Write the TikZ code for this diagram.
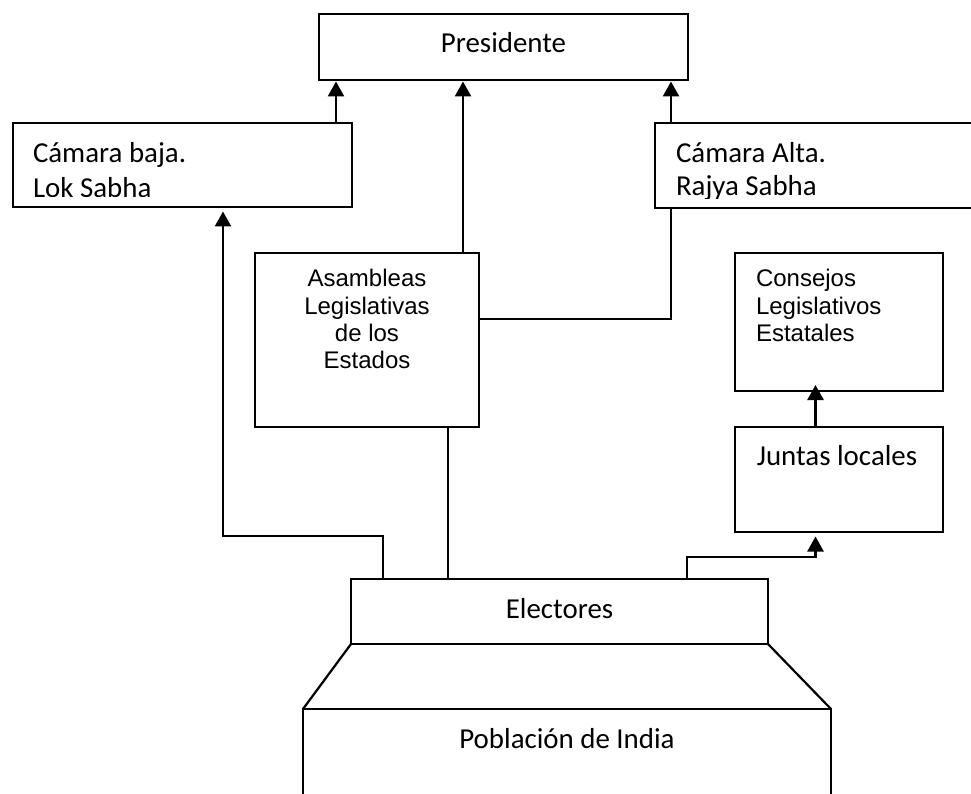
\documentclass[tikz,border=0pt]{standalone}
\usepackage{fontspec}
\setmainfont{Carlito}
\newfontfamily\arialf{Liberation Sans}
\usetikzlibrary{arrows.meta}
\tikzset{
  box/.style={draw, line width=2.2pt, inner sep=0pt, outer sep=0pt, fill=none},
  ln/.style={line width=2.2pt},
  arr/.style={line width=2.4pt, -{Triangle[length=15pt,width=16pt]}},
  cal/.style={font=\fontsize{28.9}{35}\selectfont, inner sep=0pt, outer sep=0pt},
  ari/.style={font=\arialf\fontsize{24}{27}\selectfont, inner sep=0pt, outer sep=0pt},
}
\begin{document}
\begin{tikzpicture}[x=1pt,y=-1pt]
\useasboundingbox (0,0) rectangle (971,794);
\clip (0,0) rectangle (971,794);
% boxes
\node[box, minimum width=369pt, minimum height=66pt] (pres) at (503.5,47) {};
\node[box, minimum width=339pt, minimum height=84pt] (baja) at (182.5,165) {};
\node[box, minimum width=345pt, minimum height=85pt] (alta) at (827.5,165.5) {};
\node[box, minimum width=224pt, minimum height=174pt] (asam) at (367,340) {};
\node[box, minimum width=208pt, minimum height=138pt] (cons) at (839,322) {};
\node[box, minimum width=208pt, minimum height=105pt] (junt) at (839,479.5) {};
\node[box, minimum width=417pt, minimum height=65pt] (elec) at (559.5,611.5) {};
\node[box, minimum width=528pt, minimum height=111pt] (pob) at (567,764.5) {};
% trapezoid sides
\draw[ln] (elec.south west) -- (pob.north west);
\draw[ln] (elec.south east) -- (pob.north east);
% texts
\node[cal, anchor=base] (tpres) at (503.5,53) {Presidente};
\begin{scope}
  \clip (13,123) rectangle (352,196.5);
  \node[cal, anchor=base west] (tbaja1) at (33,163) {Cámara baja.};
  \node[cal, anchor=base west] (tbaja2) at (33,197.5) {Lok Sabha};
\end{scope}
\begin{scope}
  \clip (655,123) rectangle (971,199);
  \node[cal, anchor=base west] (talta1) at (676,163) {Cámara Alta.};
  \node[cal, anchor=base west] (talta2) at (676,196) {Rajya Sabha};
\end{scope}
\node[ari, anchor=base] (tasam1) at (367,287) {Asambleas};
\node[ari, anchor=base] (tasam2) at (367,314) {Legislativas};
\node[ari, anchor=base] (tasam3) at (367,341) {de los};
\node[ari, anchor=base] (tasam4) at (367,368) {Estados};
\node[ari, anchor=base west] (tcons1) at (756,287) {Consejos};
\node[ari, anchor=base west] (tcons2) at (756,314) {Legislativos};
\node[ari, anchor=base west] (tcons3) at (756,341) {Estatales};
\node[cal, anchor=base] (tjunt) at (837,465) {Juntas locales};
\node[cal, anchor=base] (telec) at (559.5,618) {Electores};
\node[cal, anchor=base] (tpob) at (567,748) {Población de India};
% helper coordinates
\coordinate (c1) at (336,0);
\coordinate (c2) at (463,0);
\coordinate (c3) at (671,0);
\coordinate (c4) at (223,0);
\coordinate (c5) at (383,0);
\coordinate (c6) at (448,0);
\coordinate (c7) at (687,0);
\coordinate (c8) at (815.5,0);
\coordinate (y1) at (0,319);
\coordinate (y2) at (0,536);
\coordinate (y3) at (0,557);
% connectors
\draw[arr, shorten >=1.5pt] (baja.north -| c1) -- (pres.south -| c1);
\draw[arr, shorten >=1.5pt] (asam.north -| c2) -- (pres.south -| c2);
\draw[arr, shorten >=1.5pt] (alta.north -| c3) -- (pres.south -| c3);
\draw[ln] (asam.east |- y1) -- (c3 |- y1) -- (alta.south -| c3);
\draw[ln] (asam.south -| c6) -- (elec.north -| c6);
\draw[arr, shorten >=4.5pt] (elec.north -| c5) -- (c5 |- y2) -- (c4 |- y2) -- (baja.south -| c4);
\draw[arr, shorten >=4.5pt] (elec.north -| c7) -- (c7 |- y3) -- (c8 |- y3) -- (junt.south -| c8);
\draw[arr, shorten >=-6pt] (junt.north -| c8) -- (cons.south -| c8);
\end{tikzpicture}
\end{document}
